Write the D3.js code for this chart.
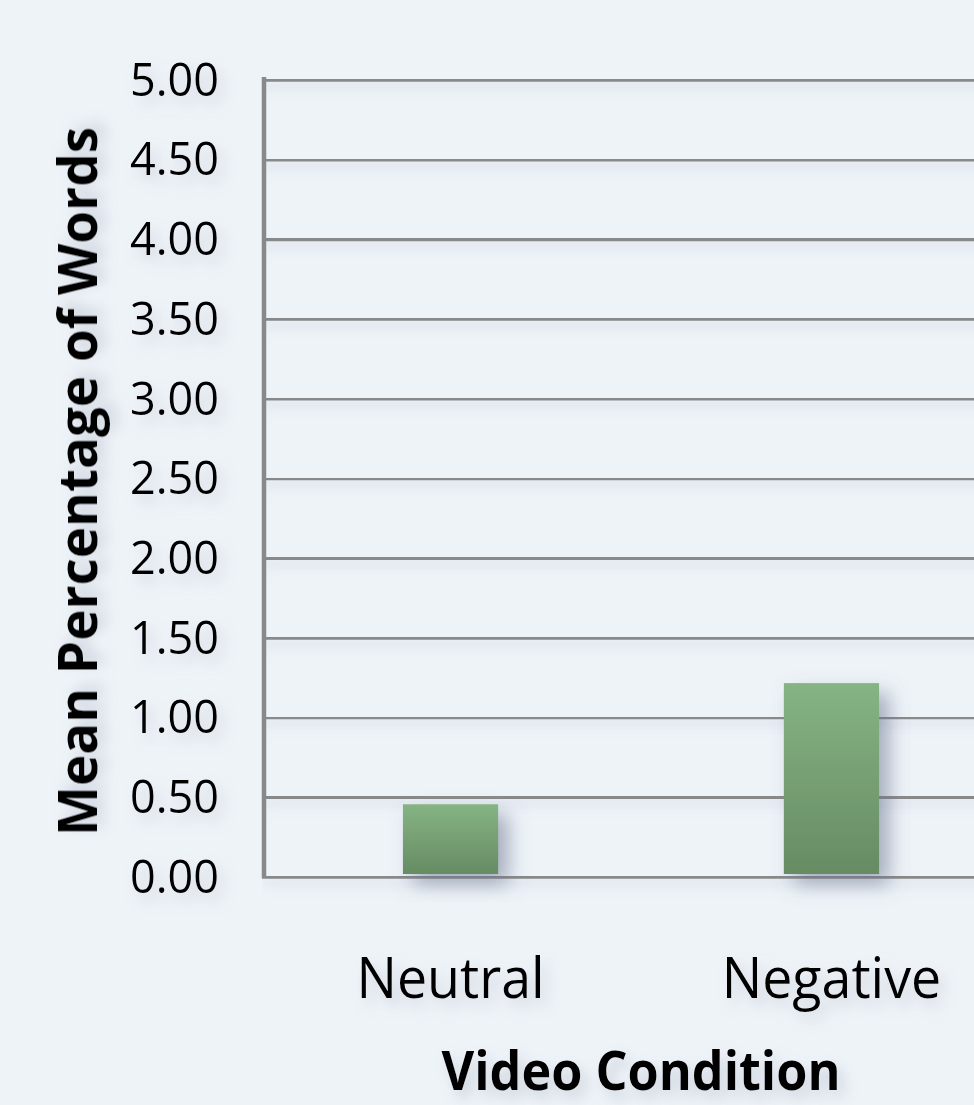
<!DOCTYPE html>
<html>
<head>
<meta charset="utf-8">
<script src="https://cdn.jsdelivr.net/npm/d3@7"></script>
<style>
  html, body { margin: 0; padding: 0; background: #eef3f8; }
  svg { display: block; }
</style>
</head>
<body>
<div id="my_dataviz"></div>
<script>
// values
var categories = ["Neutral", "Negative"];
var meanPercent = [0.45, 1.21];
var yTicks = [0, 0.5, 1, 1.5, 2, 2.5, 3, 3.5, 4, 4.5, 5];
var yTitle = "Mean Percentage of Words";
var xTitle = "Video Condition";

var width = 974, height = 1105;
var plotLeft = 262, plotRight = 1020, plotTop = 79, plotBottom = 876;
var gridColor = "#898989";
var font = "'Open Sans', 'DejaVu Sans', sans-serif";

var svg = d3.select("#my_dataviz")
  .append("svg")
  .attr("width", width)
  .attr("height", height);

var defs = svg.append("defs");

var grad = defs.append("linearGradient")
  .attr("id", "barGrad")
  .attr("x1", 0).attr("y1", 0).attr("x2", 0).attr("y2", 1);
grad.append("stop").attr("offset", "0%").attr("stop-color", "#86b484");
grad.append("stop").attr("offset", "100%").attr("stop-color", "#668b63");

// soft shadows like the office chart
var barShadow = defs.append("filter").attr("id", "barShadow")
  .attr("x", "-30%").attr("y", "-30%").attr("width", "180%").attr("height", "170%");
barShadow.append("feDropShadow")
  .attr("dx", 10).attr("dy", 10).attr("stdDeviation", 10)
  .attr("flood-color", "#66708a").attr("flood-opacity", 0.55);

var textShadow = defs.append("filter").attr("id", "textShadow")
  .attr("x", "-20%").attr("y", "-40%").attr("width", "140%").attr("height", "200%");
textShadow.append("feDropShadow")
  .attr("dx", 6).attr("dy", 8).attr("stdDeviation", 7)
  .attr("flood-color", "#8d96a8").attr("flood-opacity", 0.35);

// lines have zero height, so the filter region must be in user space
var lineShadow = defs.append("filter").attr("id", "lineShadow")
  .attr("filterUnits", "userSpaceOnUse")
  .attr("x", 0).attr("y", 0).attr("width", width).attr("height", height);
lineShadow.append("feDropShadow")
  .attr("dx", 0).attr("dy", 6).attr("stdDeviation", 6)
  .attr("flood-color", "#9aa3b3").attr("flood-opacity", 0.3);

svg.append("rect")
  .attr("width", width).attr("height", height)
  .attr("fill", "#eef3f8");

var y = d3.scaleLinear()
  .domain([0, 5])
  .range([plotBottom, plotTop]);

var x = d3.scaleBand()
  .domain(categories)
  .range([plotLeft, plotRight])
  .paddingInner(0.75)
  .paddingOuter(0.37);

// gridlines + tick labels
var yAxis = svg.append("g")
  .attr("transform", `translate(${plotLeft},0)`)
  .call(d3.axisLeft(y)
    .tickValues(yTicks)
    .tickFormat(d3.format(".2f"))
    .tickSize(-(plotRight - plotLeft))
    .tickPadding(43));
yAxis.select(".domain").remove();
yAxis.selectAll(".tick line")
  .attr("stroke", gridColor)
  .attr("stroke-width", 4.5)
  .attr("filter", "url(#lineShadow)");
yAxis.selectAll(".tick text")
  .attr("font-family", font)
  .attr("font-size", 45)
  .attr("fill", "#000")
  .attr("dy", "0.36em")
  .attr("filter", "url(#textShadow)");

// left axis line
svg.append("line")
  .attr("x1", plotLeft + 2).attr("x2", plotLeft + 2)
  .attr("y1", y(5) - 2).attr("y2", y(0) + 2)
  .attr("stroke", gridColor)
  .attr("stroke-width", 4.5);

// bars
svg.selectAll(".bar")
  .data(meanPercent)
  .join("rect")
  .attr("class", "bar")
  .attr("x", (d, i) => x(categories[i]))
  .attr("width", x.bandwidth())
  .attr("y", d => y(d))
  .attr("height", d => y(0) - y(d) - 2)
  .attr("fill", "url(#barGrad)")
  .attr("filter", "url(#barShadow)");

// category labels
var xAxis = svg.append("g")
  .attr("transform", `translate(0,${plotBottom})`)
  .call(d3.axisBottom(x).tickSize(0).tickPadding(122));
xAxis.select(".domain").remove();
xAxis.selectAll(".tick text")
  .attr("font-family", font)
  .attr("font-size", 56)
  .attr("fill", "#000")
  .attr("dy", "0")
  .attr("filter", "url(#textShadow)");

var xLabel = svg.append("text")
  .attr("x", (plotLeft + plotRight) / 2)
  .attr("y", 1090)
  .attr("text-anchor", "middle")
  .attr("font-family", font)
  .attr("font-weight", "bold")
  .attr("font-size", 53)
  .attr("filter", "url(#textShadow)")
  .text(xTitle);

svg.append("text")
  .attr("transform", `translate(97,${(plotTop + plotBottom) / 2 + 4}) rotate(-90)`)
  .attr("text-anchor", "middle")
  .attr("font-family", font)
  .attr("font-weight", "bold")
  .attr("font-size", 53)
  .attr("filter", "url(#textShadow)")
  .text(yTitle);

// calibri is a bit narrower than open sans in places
function squeeze(sel, k) {
  sel.each(function() {
    var len = this.getComputedTextLength();
    d3.select(this)
      .attr("textLength", len * k)
      .attr("lengthAdjust", "spacingAndGlyphs");
  });
}
squeeze(xAxis.selectAll(".tick text"), 0.96);
squeeze(xLabel, 0.95);
</script>
</body>
</html>
